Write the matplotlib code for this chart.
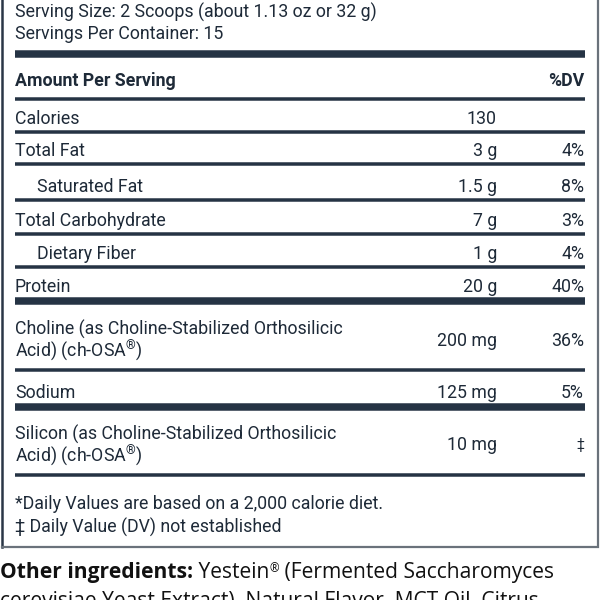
import matplotlib
matplotlib.use("Agg")
import matplotlib.pyplot as plt

plt.rcParams["mathtext.fontset"] = "custom"
plt.rcParams["mathtext.rm"] = "Roboto"

# label content
serving_lines = ["Serving Size: 2 Scoops (about 1.13 oz or 32 g)",
                 "Servings Per Container: 15"]
header = ["Amount Per Serving", "%DV"]
nutrients = [["Calories"], ["Total Fat"], ["Saturated Fat"],
             ["Total Carbohydrate"], ["Dietary Fiber"], ["Protein"],
             ["Choline (as Choline-Stabilized Orthosilicic", "Acid) (ch-OSA$^{®}$)"],
             ["Sodium"],
             ["Silicon (as Choline-Stabilized Orthosilicic", "Acid) (ch-OSA$^{®}$)"]]
amounts = ["130", "3 g", "1.5 g", "7 g", "1 g", "20 g", "200 mg", "125 mg", "10 mg"]
dv = ["", "4%", "8%", "3%", "4%", "40%", "36%", "5%", "‡"]
indented = [False, False, True, False, True, False, False, False, False]
footnotes = ["*Daily Values are based on a 2,000 calorie diet.",
             "‡ Daily Value (DV) not established"]
ingredients_head = "Other ingredients:"
ingredients_text = [" Yestein", "®", " (Fermented Saccharomyces",
                    "cerevisiae Yeast Extract), Natural Flavor, MCT Oil, Citrus"]

# layout in pixels (y grows downwards), text positions are baselines
rules = [54, 98.5, 132, 164, 199.5, 233.5, 267, 301, 370, 406.5, 475]
thick = [True, False, False, False, False, False, False, True, False, True, False]
serving_base = [18, 39]
header_base = 86
row_base = [[124], [156.5], [191.5], [225.5], [259], [292.5],
            [335, 356.5], [397.5], [440, 461.5]]
amount_base = [124, 156.5, 191.5, 225.5, 259, 292.5, 346, 397.5, 450.5]
foot_base = [509, 532.5]
ing_base = [578, 607]
x_left, x_amt, x_dv = 15, 497, 584

ink = "#1e2a38"
rule_col = "#253344"
font = "Roboto"
fs = 12.8

fig = plt.figure(figsize=(6, 6), dpi=100)
ax = fig.add_axes([0, 0, 1, 1])
ax.set_xlim(0, 600)
ax.set_ylim(600, 0)
ax.axis("off")


def txt(x, y, s, **kw):
    opts = dict(fontsize=fs, family=font, color=ink, va="baseline")
    opts.update(kw)
    return ax.text(x, y, s, **opts)


# outer box (top is cut off)
ax.plot([1.5, 1.5], [-5, 546.5], color="#2a3646", lw=1.8)
ax.plot([1.5, 597.5, 597.5], [546.5, 546.5, -5], color="#6a727b", lw=1.6,
        solid_joinstyle="miter")

for y, t in zip(rules, thick):
    ax.hlines(y, x_left, 585, color=rule_col, lw=(7.5 if t else 3.5) * 0.72)

for s, y in zip(serving_lines, serving_base):
    txt(x_left, y, s)
txt(x_left, header_base, header[0], weight="bold")
txt(x_dv, header_base, header[1], weight="bold", ha="right")

for i, lines in enumerate(nutrients):
    x = x_left + (22 if indented[i] else 0)
    for s, y in zip(lines, row_base[i]):
        txt(x, y, s)
    txt(x_amt, amount_base[i], amounts[i], ha="right")
    if dv[i] == "‡":
        txt(x_dv, amount_base[i] - 1, dv[i], ha="right", fontsize=fs - 3)
    else:
        txt(x_dv, amount_base[i], dv[i], ha="right")

for s, y in zip(footnotes, foot_base):
    txt(x_left, y, s)

fs2 = 15.1
ing_col = "#111111"
fig.canvas.draw()
renderer = fig.canvas.get_renderer()
inv = ax.transData.inverted()
xpos = 0
parts = [(ingredients_head, "bold", fs2, ing_base[0]),
         (ingredients_text[0], "normal", fs2, ing_base[0]),
         (ingredients_text[1], "normal", fs2 * 0.55, ing_base[0] - 6),
         (ingredients_text[2], "normal", fs2, ing_base[0])]
for s, w, size, y in parts:
    t = txt(xpos, y, s, fontsize=size, family="Open Sans", weight=w,
            color=ing_col)
    xpos = t.get_window_extent(renderer).transformed(inv).x1
txt(0, ing_base[1], ingredients_text[3], fontsize=fs2, family="Open Sans",
    color=ing_col)

fig.savefig("out.png", dpi=100)
